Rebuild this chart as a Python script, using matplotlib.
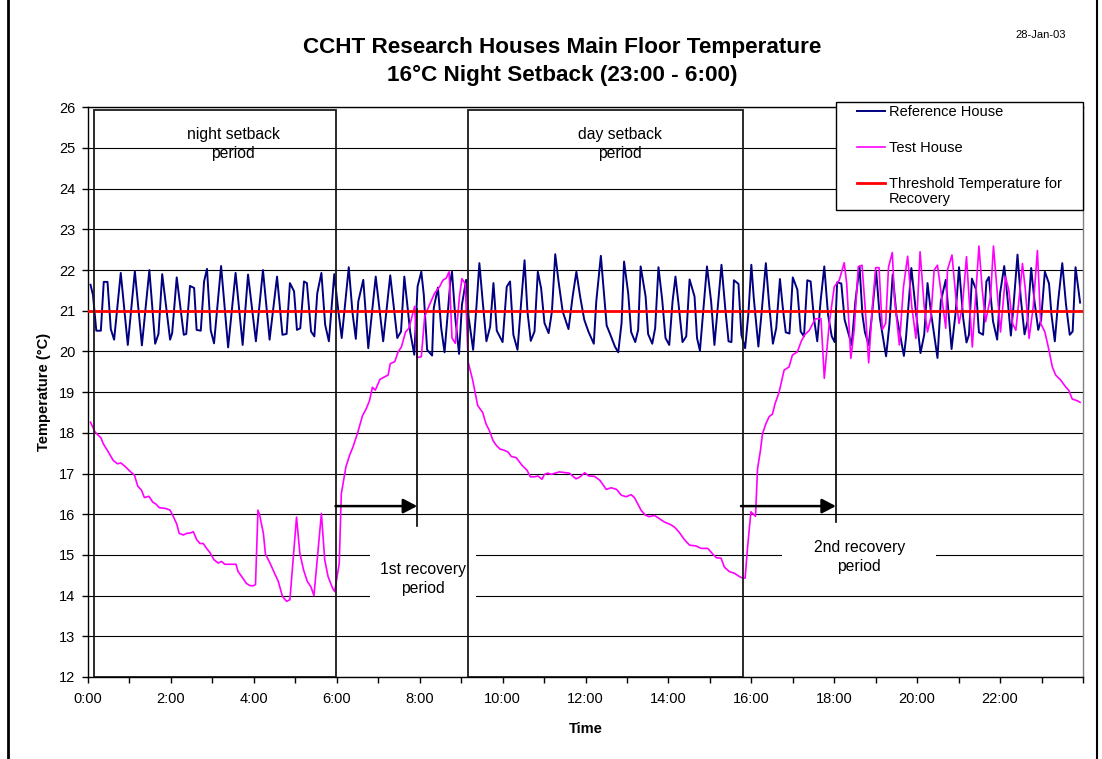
import matplotlib
matplotlib.use("Agg")
import matplotlib.pyplot as plt
from matplotlib.patches import Rectangle
from matplotlib.lines import Line2D

plt.rcParams["font.family"] = ["Liberation Sans", "DejaVu Sans"]

W, H = 1102, 759

# ---- data (hours since midnight, deg C) ----
ref_hours = [
    0.06, 0.12, 0.20, 0.31, 0.38, 0.47, 0.55, 0.63, 0.79, 0.96, 1.13, 1.30, 1.48, 1.62, 1.70, 1.79,
    1.98, 2.03, 2.14, 2.31, 2.37, 2.46, 2.56, 2.62, 2.72, 2.80, 2.87, 2.96, 3.04, 3.21, 3.38, 3.56,
    3.73, 3.86, 4.05, 4.22, 4.38, 4.56, 4.69, 4.79, 4.87, 4.97, 5.04, 5.12, 5.21, 5.28, 5.38, 5.46,
    5.53, 5.63, 5.72, 5.81, 5.94, 6.03, 6.12, 6.29, 6.38, 6.46, 6.52, 6.64, 6.76, 6.94, 7.12, 7.29,
    7.46, 7.55, 7.63, 7.77, 7.87, 7.95, 8.04, 8.10, 8.18, 8.30, 8.34, 8.44, 8.52, 8.60, 8.74, 8.78,
    8.86, 8.95, 9.02, 9.12, 9.18, 9.29, 9.37, 9.44, 9.52, 9.61, 9.70, 9.78, 9.86, 10.00, 10.10, 10.18,
    10.26, 10.36, 10.45, 10.53, 10.60, 10.68, 10.77, 10.85, 10.93, 11.01, 11.11, 11.19, 11.27, 11.35,
    11.45, 11.59, 11.69, 11.78, 11.87, 11.97, 12.07, 12.20, 12.26, 12.37, 12.44, 12.51, 12.60, 12.71,
    12.79, 12.87, 12.93, 13.03, 13.10, 13.20, 13.27, 13.33, 13.45, 13.51, 13.61, 13.68, 13.76, 13.85,
    13.93, 14.02, 14.10, 14.17, 14.25, 14.34, 14.43, 14.51, 14.63, 14.69, 14.76, 14.84, 14.93, 15.03,
    15.11, 15.18, 15.28, 15.37, 15.45, 15.52, 15.58, 15.69, 15.76, 15.85, 15.93, 16.00, 16.06, 16.17,
    16.25, 16.35, 16.43, 16.52, 16.60, 16.69, 16.76, 16.83, 16.92, 17.00, 17.11, 17.19, 17.27, 17.35,
    17.43, 17.51, 17.59, 17.67, 17.76, 17.85, 17.94, 18.01, 18.07, 18.17, 18.25, 18.42, 18.51, 18.61,
    18.68, 18.74, 18.83, 18.91, 19.01, 19.10, 19.25, 19.33, 19.41, 19.50, 19.68, 19.73, 19.86, 19.96,
    20.08, 20.17, 20.25, 20.33, 20.49, 20.57, 20.69, 20.83, 20.93, 21.01, 21.11, 21.19, 21.25, 21.32,
    21.42, 21.49, 21.59, 21.67, 21.73, 21.83, 21.93, 22.00, 22.10, 22.18, 22.26, 22.32, 22.42, 22.50,
    22.59, 22.66, 22.75, 22.83, 22.92, 22.99, 23.08, 23.18, 23.24, 23.32, 23.40, 23.50, 23.59, 23.68,
    23.75, 23.82, 23.93,
]
ref_temp = [
    21.64, 21.39, 20.51, 20.51, 21.71, 21.71, 20.55, 20.29, 21.93, 20.16, 21.97, 20.15, 22.00, 20.19, 20.43, 21.90,
    20.29, 20.45, 21.82, 20.41, 20.43, 21.61, 21.56, 20.53, 20.51, 21.72, 22.03, 20.52, 20.20, 22.10, 20.10, 21.93,
    20.16, 21.89, 20.25, 22.00, 20.29, 21.84, 20.41, 20.43, 21.68, 21.48, 20.53, 20.57, 21.72, 21.68, 20.49, 20.37,
    21.43, 21.93, 20.66, 20.25, 21.90, 21.07, 20.33, 22.07, 20.95, 20.31, 21.23, 21.76, 20.08, 21.84, 20.25, 21.87,
    20.33, 20.49, 21.84, 20.49, 19.92, 21.60, 21.96, 21.39, 20.04, 19.90, 21.07, 21.57, 20.57, 19.98, 21.72, 21.96,
    20.82, 19.94, 21.15, 21.76, 20.85, 20.04, 21.11, 22.17, 21.23, 20.25, 20.61, 21.68, 20.51, 20.23, 21.59, 21.72,
    20.41, 20.04, 21.23, 22.24, 20.98, 20.26, 20.49, 21.96, 21.55, 20.70, 20.45, 20.98, 22.39, 21.72,
    20.98, 20.55, 21.35, 21.96, 21.35, 20.78, 20.49, 20.19, 21.23, 22.35, 21.51, 20.64, 20.41, 20.12,
    19.98, 20.70, 22.21, 21.43, 20.48, 20.23, 20.53, 22.09, 21.35, 20.43, 20.19, 20.57, 22.07, 21.27,
    20.33, 20.16, 21.23, 21.84, 21.11, 20.23, 20.37, 21.77, 21.35, 20.33, 20.02, 20.98, 22.09, 21.23,
    20.16, 20.98, 22.13, 21.07, 20.25, 20.23, 21.75, 21.66, 20.41, 20.08, 20.94, 22.13, 21.30, 20.12,
    20.98, 22.17, 21.15, 20.19, 20.57, 21.78, 21.07, 20.47, 20.44, 21.82, 21.52, 20.49, 20.37, 21.75,
    21.72, 20.82, 20.25, 21.23, 22.09, 20.90, 20.37, 20.23, 21.70, 21.67, 20.78, 20.16, 21.23, 22.09,
    20.90, 20.47, 20.16, 20.90, 21.98, 20.82, 19.88, 20.66, 21.89, 20.90, 19.89, 20.33, 22.05, 21.07,
    19.96, 20.41, 21.68, 20.98, 19.84, 21.23, 21.76, 20.06, 20.98, 22.07, 20.82, 20.22, 20.41, 21.79,
    21.52, 20.47, 20.41, 21.72, 21.83, 20.74, 20.29, 21.43, 22.10, 21.30, 20.39, 21.07, 22.38, 21.30,
    20.42, 20.74, 22.05, 21.23, 20.53, 20.78, 21.96, 21.67, 20.90, 20.25, 21.23, 22.17, 21.15, 20.41,
    20.49, 22.07, 21.20,
]

test_hours = [
    0.06, 0.17, 0.31, 0.37, 0.49, 0.61, 0.71, 0.79, 0.89, 1.03, 1.12, 1.20, 1.29, 1.36, 1.47, 1.56,
    1.65, 1.72, 1.88, 1.98, 2.06, 2.14, 2.20, 2.30, 2.38, 2.47, 2.54, 2.62, 2.70, 2.78, 2.86, 2.94,
    3.04, 3.14, 3.22, 3.30, 3.57, 3.62, 3.70, 3.82, 3.90, 3.98, 4.04, 4.10, 4.14, 4.23, 4.28, 4.39,
    4.49, 4.59, 4.69, 4.79, 4.87, 5.03, 5.11, 5.20, 5.29, 5.38, 5.45, 5.63, 5.71, 5.79, 5.90, 5.95,
    6.06, 6.11, 6.22, 6.31, 6.39, 6.51, 6.62, 6.71, 6.79, 6.86, 6.93, 7.04, 7.16, 7.24, 7.29, 7.40,
    7.48, 7.56, 7.66, 7.74, 7.88, 7.94, 8.04, 8.12, 8.20, 8.36, 8.48, 8.56, 8.64, 8.71, 8.78, 8.86,
    8.96, 9.02, 9.10, 9.17, 9.28, 9.40, 9.52, 9.60, 9.68, 9.77, 9.85, 9.94, 10.02, 10.13, 10.21, 10.33,
    10.47, 10.59, 10.67, 10.77, 10.85, 10.95, 11.01, 11.09, 11.17, 11.37, 11.61, 11.77, 11.86, 11.98,
    12.08, 12.22, 12.35, 12.50, 12.62, 12.75, 12.86, 12.98, 13.10, 13.18, 13.34, 13.44, 13.54, 13.66,
    13.74, 13.90, 14.04, 14.14, 14.25, 14.39, 14.51, 14.67, 14.79, 14.95, 15.07, 15.16, 15.27, 15.35,
    15.47, 15.59, 15.71, 15.79, 15.85, 15.91, 15.99, 16.10, 16.15, 16.22, 16.27, 16.35, 16.43, 16.51,
    16.57, 16.67, 16.79, 16.91, 16.99, 17.11, 17.20, 17.28, 17.40, 17.54, 17.68, 17.76, 17.88, 18.00,
    18.12, 18.24, 18.30, 18.40, 18.48, 18.58, 18.67, 18.75, 18.83, 18.92, 19.00, 19.08, 19.16, 19.24,
    19.31, 19.40, 19.45, 19.57, 19.67, 19.77, 19.87, 19.97, 20.07, 20.17, 20.25, 20.33, 20.41, 20.49,
    20.57, 20.69, 20.73, 20.84, 20.94, 21.01, 21.09, 21.19, 21.25, 21.33, 21.41, 21.49, 21.57, 21.65,
    21.77, 21.84, 21.94, 22.01, 22.13, 22.21, 22.30, 22.38, 22.48, 22.54, 22.61, 22.70, 22.80, 22.90,
    22.98, 23.08, 23.18, 23.26, 23.34, 23.46, 23.58, 23.66, 23.74, 23.86, 23.93,
]
test_temp = [
    18.26, 18.02, 17.88, 17.73, 17.53, 17.32, 17.24, 17.26, 17.18, 17.04, 16.96, 16.69, 16.59, 16.41, 16.44, 16.30,
    16.24, 16.16, 16.14, 16.10, 15.94, 15.76, 15.53, 15.49, 15.53, 15.54, 15.57, 15.38, 15.28, 15.28, 15.16, 15.06,
    14.88, 14.80, 14.84, 14.77, 14.77, 14.59, 14.48, 14.30, 14.25, 14.24, 14.27, 16.10, 15.98, 15.53, 15.02, 14.80,
    14.57, 14.35, 13.98, 13.86, 13.90, 15.93, 15.04, 14.63, 14.35, 14.21, 14.00, 16.02, 14.88, 14.47, 14.18, 14.10,
    14.79, 16.50, 17.16, 17.45, 17.65, 18.02, 18.42, 18.59, 18.79, 19.12, 19.05, 19.31, 19.38, 19.42, 19.70, 19.75,
    19.99, 20.11, 20.48, 20.57, 21.11, 19.85, 19.87, 20.85, 21.06, 21.43, 21.59, 21.75, 21.80, 21.96, 20.33, 20.20,
    21.35, 21.79, 21.66, 19.74, 19.29, 18.67, 18.50, 18.22, 18.06, 17.81, 17.69, 17.60, 17.58, 17.53, 17.42, 17.39,
    17.20, 17.08, 16.92, 16.92, 16.94, 16.86, 16.98, 17.01, 16.98, 17.04, 17.01, 16.87, 16.91, 17.02,
    16.94, 16.93, 16.83, 16.61, 16.65, 16.61, 16.47, 16.43, 16.48, 16.41, 16.10, 15.98, 15.94, 15.97,
    15.92, 15.81, 15.75, 15.69, 15.57, 15.37, 15.24, 15.22, 15.16, 15.16, 15.02, 14.93, 14.92, 14.70,
    14.59, 14.55, 14.47, 14.43, 14.43, 15.20, 16.06, 15.95, 17.12, 17.57, 17.98, 18.22, 18.40, 18.46,
    18.71, 19.00, 19.54, 19.62, 19.91, 19.99, 20.24, 20.40, 20.52, 20.80, 20.81, 19.34, 20.69, 21.59,
    21.75, 22.18, 21.67, 19.83, 20.52, 22.08, 22.12, 21.02, 19.72, 21.10, 22.06, 22.06, 20.54, 20.69,
    22.08, 22.43, 21.34, 20.16, 21.59, 22.34, 21.10, 20.32, 22.45, 21.10, 20.48, 20.84, 22.00, 22.12,
    21.51, 20.57, 22.00, 22.37, 21.26, 20.69, 21.10, 22.33, 21.35, 20.11, 21.34, 22.59, 21.51, 20.73,
    21.34, 22.59, 21.34, 20.48, 21.84, 21.51, 20.69, 20.52, 21.51, 22.16, 21.51, 20.32, 21.10, 22.48,
    20.69, 20.48, 20.03, 19.62, 19.42, 19.30, 19.13, 19.04, 18.83, 18.79, 18.75,
]

threshold_hours = [0, 24]
threshold_temp = [21, 21]

tick_hours = list(range(0, 25))
tick_labels = [f"{h}:00" if h % 2 == 0 and h < 24 else "" for h in tick_hours]
y_ticks = list(range(12, 27))

# setback periods (start, end in hours) and recovery periods
night_setback = (0.14, 5.97)
day_setback = (9.17, 15.79)
recoveries = [(5.97, 7.94), (15.75, 18.04)]


def fx(px):
    return px / W


def fy(py):
    return 1 - py / H


fig = plt.figure(figsize=(W / 100, H / 100), dpi=100)
ax = fig.add_axes([fx(88), fy(677), (1083 - 88) / W, (677 - 107.3) / H])
ax.set_axisbelow(True)

ax.plot(ref_hours, ref_temp, color="#000080", lw=1.4, zorder=3)
ax.plot(test_hours, test_temp, color="#FF00FF", lw=1.2, zorder=4)
ax.plot(threshold_hours, threshold_temp, color="#FF0000", lw=2.0, zorder=5)

ax.set_xlim(0, 24)
ax.set_ylim(12, 26)
ax.set_xticks(tick_hours)
ax.set_xticklabels(tick_labels)
ax.set_yticks(y_ticks)
ax.tick_params(direction="out", length=4, width=1, labelsize=10.5, color="black")
ax.tick_params(axis="x", pad=7)
ax.tick_params(axis="y", pad=5)
ax.grid(axis="y", color="black", lw=0.8)
for s in ax.spines.values():
    s.set_linewidth(1)
ax.spines["right"].set_color("#808080")

ax.set_xlabel("Time", fontsize=10.5, fontweight="bold", labelpad=11)
ax.set_ylabel("Temperature (\u00b0C)", fontsize=10.5, fontweight="bold", labelpad=6)

# setback period boxes
for (a, b), txt, cx in [(night_setback, "night setback\nperiod", 3.5),
                        (day_setback, "day setback\nperiod", 12.83)]:
    ax.add_patch(Rectangle((a, 12), b - a, 13.93, fill=False, edgecolor="#1a1a1a", lw=1.3, zorder=6))
    ax.text(cx, 25.1, txt, ha="center", va="center", fontsize=11.3, linespacing=1.3, zorder=7)

# recovery arrows + markers
for (a, b), top, bot in zip(recoveries, [21.05, 21.05], [15.72, 15.81]):
    ax.plot([b, b], [bot, top], color="black", lw=1.2, zorder=6)
    ax.annotate("", xy=(b, 16.2), xytext=(a, 16.2),
                arrowprops=dict(arrowstyle="-|>,head_length=0.42,head_width=0.22", color="black",
                                lw=1.8, mutation_scale=20, shrinkA=0, shrinkB=0), zorder=6)

# white label boxes that hide the gridlines
ax.add_patch(Rectangle((6.8, 13.9), 9.37 - 6.8, 1.3, facecolor="white", edgecolor="none", zorder=1))
ax.add_patch(Rectangle((16.74, 14.5), 20.45 - 16.74, 1.0, facecolor="white", edgecolor="none", zorder=1))
ax.text(8.07, 14.41, "1st recovery\nperiod", ha="center", va="center", fontsize=11.3, linespacing=1.3, zorder=7)
ax.text(18.6, 14.95, "2nd recovery\nperiod", ha="center", va="center", fontsize=11.3, linespacing=1.3, zorder=7)

# titles
fig.text(fx(562), fy(47), "CCHT Research Houses Main Floor Temperature", ha="center", va="center",
         fontsize=16.2, fontweight="bold")
fig.text(fx(562), fy(75), "16\u00b0C Night Setback (23:00 - 6:00)", ha="center", va="center",
         fontsize=16.2, fontweight="bold")
fig.text(fx(1041), fy(35), "28-Jan-03", ha="center", va="center", fontsize=8)

# legend drawn by hand (handle aligned to first line of the wrapped label)
fig.add_artist(Rectangle((fx(835.5), fy(210)), (1083.3 - 835.5) / W, (210 - 101.7) / H,
                         transform=fig.transFigure, facecolor="white", edgecolor="black", lw=1, zorder=10))
legend_rows = [("Reference House", "#000080", 1.4, 111), ("Test House", "#FF00FF", 1.2, 147),
               ("Threshold Temperature for\nRecovery", "#FF0000", 2.0, 183)]
for label, col, lw, py in legend_rows:
    fig.add_artist(Line2D([fx(857), fx(885)], [fy(py), fy(py)], color=col, lw=lw, zorder=11))
    fig.text(fx(889), fy(py - 6), label, ha="left", va="top", fontsize=10.5, linespacing=1.07, zorder=11)

# outer chart border
fig.add_artist(Line2D([fx(8), fx(8)], [0, 1], color="black", lw=2))
fig.add_artist(Line2D([fx(1097), fx(1097)], [0, 1], color="black", lw=1.5))

fig.savefig("out.png", dpi=100)
